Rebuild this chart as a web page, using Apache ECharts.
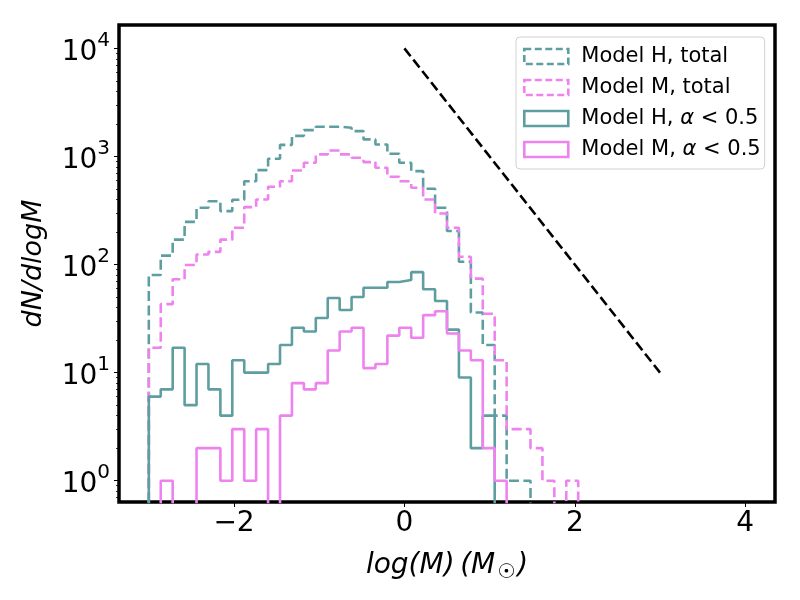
<!DOCTYPE html>
<html lang="en">
<head>
    <meta charset="utf-8">
    <title>dN/dlogM histogram</title>
    <script src="https://cdn.jsdelivr.net/npm/echarts@6/dist/echarts.min.js"></script>
    <style>
        html, body { margin: 0; padding: 0; background: #fff; }
        #chart { width: 800px; height: 600px; }
    </style>
</head>
<body>
<div id="chart"></div>
<script type="text/javascript">
    // bin edges in log(M)
    var binEdges = [-3.00, -2.86, -2.72, -2.58, -2.44, -2.30, -2.16, -2.02, -1.88, -1.74,
        -1.60, -1.46, -1.32, -1.18, -1.04, -0.90, -0.76, -0.62, -0.48, -0.34,
        -0.20, -0.06, 0.08, 0.22, 0.36, 0.50, 0.64, 0.78, 0.92, 1.06,
        1.20, 1.34, 1.48, 1.62, 1.76, 1.90, 2.04];

    // counts per bin
    var modelHTotal = [80, 121, 170, 248, 335, 385, 312, 398, 590, 747, 952, 1280, 1550, 1753, 1885, 1885, 1843, 1715,
        1437, 1291, 1059, 875, 731, 502, 335, 204, 106, 36, 18, 4, 1, 1, 0, 0, 0, 0];
    var modelMTotal = [17, 43, 73, 99, 124, 131, 170, 219, 340, 400, 524, 590, 741, 875, 1044, 1136, 1044, 973,
        886, 786, 649, 590, 513, 400, 297, 219, 118, 74, 35, 13, 3, 3, 2, 1, 0, 1];
    var modelHAlpha = [6, 7, 17, 5, 12, 7, 4, 13, 10, 10, 12, 18, 26, 24, 32, 49, 38, 50,
        61, 61, 69, 72, 85, 59, 46, 25, 9, 2, 4, 0, 0, 0, 0, 0, 0, 0];
    var modelMAlpha = [0, 1, 0, 0, 2, 2, 1, 3, 1, 3, 0, 4, 8, 7, 8, 16, 24, 26,
        11, 12, 22, 26, 21, 34, 37, 23, 16, 13, 2, 1, 0, 0, 0, 0, 0, 0];

    // slope -1 reference line
    var refX = [0, 3];
    var refY = [10000, 10];

    var xTicks = [-2, 0, 2, 4];
    var yDecades = [0, 1, 2, 3, 4];

    var TEAL = '#5f9ea0';
    var PINK = '#ee82ee';
    var FLOOR = -3;   // log value used for empty bins (off the plot)

    function lg(v) {
        return v > 0 ? Math.log10(v) : FLOOR;
    }

    // step outline like histtype='step'
    function stepPoints(counts) {
        var pts = [[binEdges[0], FLOOR]];
        for (var i = 0; i < counts.length; i++) {
            pts.push([binEdges[i], lg(counts[i])]);
            pts.push([binEdges[i + 1], lg(counts[i])]);
        }
        pts.push([binEdges[counts.length], FLOOR]);
        return pts;
    }

    var minorTicks = [];
    for (var n = -1; n <= 4; n++) {
        for (var k = 2; k <= 9; k++) {
            var t = n + Math.log10(k);
            if (t > -0.197 && t < 4.216) minorTicks.push(t);
        }
    }

    var dash = [10, 4.4];
    var myChart = echarts.init(document.getElementById('chart'));

    function histSeries(name, counts, color, type) {
        return {
            name: name,
            type: 'line',
            data: stepPoints(counts),
            showSymbol: false,
            symbol: 'none',
            clip: true,
            animation: false,
            itemStyle: {color: color},
            lineStyle: {color: color, width: 2.6, type: type}
        };
    }

    var legendNames = ['Model H, total', 'Model M, total', 'Model H, α<0.5', 'Model M, α<0.5'];

    var option = {
        animation: false,
        grid: {
            left: 119, top: 25, width: 656, height: 477,
            show: true, borderColor: '#000', borderWidth: 3.5,
            backgroundColor: 'transparent',
            outerBoundsMode: 'none'
        },
        legend: {
            orient: 'vertical',
            left: 516, top: 37,
            padding: [9, 4, 9, 7],
            backgroundColor: '#fff',
            borderColor: '#d0d0d0', borderWidth: 1, borderRadius: 4,
            itemWidth: 44, itemHeight: 15, itemGap: 10,
            textStyle: {
                fontFamily: 'DejaVu Sans', fontSize: 21, color: '#000', padding: [0, 0, 0, 8],
                rich: {
                    t: {fontFamily: 'DejaVu Sans', fontSize: 21, color: '#000'},
                    a: {fontFamily: 'DejaVu Sans', fontStyle: 'italic', fontSize: 21, color: '#000'}
                }
            },
            formatter: function (name) {
                var p = name.split('α<');
                if (p.length === 1) return '{t|' + name + '}';
                return '{t|' + p[0] + '}{a|α}{t| < ' + p[1] + '}';
            },
            data: [
                {name: legendNames[0], icon: 'rect', itemStyle: {color: 'transparent', borderColor: TEAL, borderWidth: 2.6, borderType: [7, 3.5]}},
                {name: legendNames[1], icon: 'rect', itemStyle: {color: 'transparent', borderColor: PINK, borderWidth: 2.6, borderType: [7, 3.5]}},
                {name: legendNames[2], icon: 'rect', itemStyle: {color: 'transparent', borderColor: TEAL, borderWidth: 2.6, borderType: 'solid'}},
                {name: legendNames[3], icon: 'rect', itemStyle: {color: 'transparent', borderColor: PINK, borderWidth: 2.6, borderType: 'solid'}}
            ]
        },
        xAxis: [{
            type: 'value',
            min: -3.35, max: 4.35,
            splitLine: {show: false},
            axisLine: {show: false, onZero: false},
            axisTick: {show: true, inside: false, length: 5, lineStyle: {color: '#000', width: 1}, customValues: xTicks},
            axisLabel: {
                customValues: xTicks, margin: 8,
                fontFamily: 'DejaVu Sans', fontSize: 28, color: '#000',
                formatter: function (v) { return v < 0 ? '\u2212' + Math.abs(v) : String(v); }
            },
            name: '{i|log(M)\u2009(M}{s|\u2609}{i|)}',
            nameLocation: 'middle',
            nameGap: 47,
            nameTextStyle: {
                rich: {
                    i: {fontFamily: 'DejaVu Sans', fontStyle: 'italic', fontSize: 28, color: '#000', lineHeight: 34},
                    s: {fontFamily: 'DejaVu Sans', fontSize: 20, color: '#000', verticalAlign: 'bottom', lineHeight: 20, padding: [0, 2, 0, 2]}
                }
            }
        }],
        yAxis: [{
            type: 'value',
            min: -0.197, max: 4.216,
            splitLine: {show: false},
            axisLine: {show: false, onZero: false},
            axisTick: {show: true, inside: false, length: 5, lineStyle: {color: '#000', width: 1}, customValues: yDecades},
            axisLabel: {
                customValues: yDecades, margin: 9,
                formatter: function (v) { return '{b|10}{e|' + v + '}'; },
                rich: {
                    b: {fontFamily: 'DejaVu Sans', fontSize: 28, color: '#000', lineHeight: 36, verticalAlign: 'bottom'},
                    e: {fontFamily: 'DejaVu Sans', fontSize: 20, color: '#000', lineHeight: 20, verticalAlign: 'top'}
                }
            },
            name: 'dN/dlogM',
            nameLocation: 'middle',
            nameGap: 72,
            nameRotate: 90,
            nameTextStyle: {fontFamily: 'DejaVu Sans', fontStyle: 'italic', fontSize: 27, color: '#000'}
        }, {
            type: 'value',
            min: -0.197, max: 4.216,
            position: 'left',
            splitLine: {show: false},
            axisLine: {show: false, onZero: false},
            axisLabel: {show: false},
            axisTick: {show: true, inside: false, length: 3, lineStyle: {color: '#000', width: 0.8}, customValues: minorTicks}
        }],
        series: [
            histSeries(legendNames[0], modelHTotal, TEAL, dash),
            histSeries(legendNames[1], modelMTotal, PINK, dash),
            histSeries(legendNames[2], modelHAlpha, TEAL, 'solid'),
            histSeries(legendNames[3], modelMAlpha, PINK, 'solid'),
            {
                name: 'ref',
                type: 'line',
                data: refX.map(function (x, i) { return [x, Math.log10(refY[i])]; }),
                showSymbol: false,
                symbol: 'none',
                lineStyle: {color: '#000', width: 2.6, type: dash}
            }
        ]
    };

    myChart.setOption(option);
</script>
</body>
</html>
